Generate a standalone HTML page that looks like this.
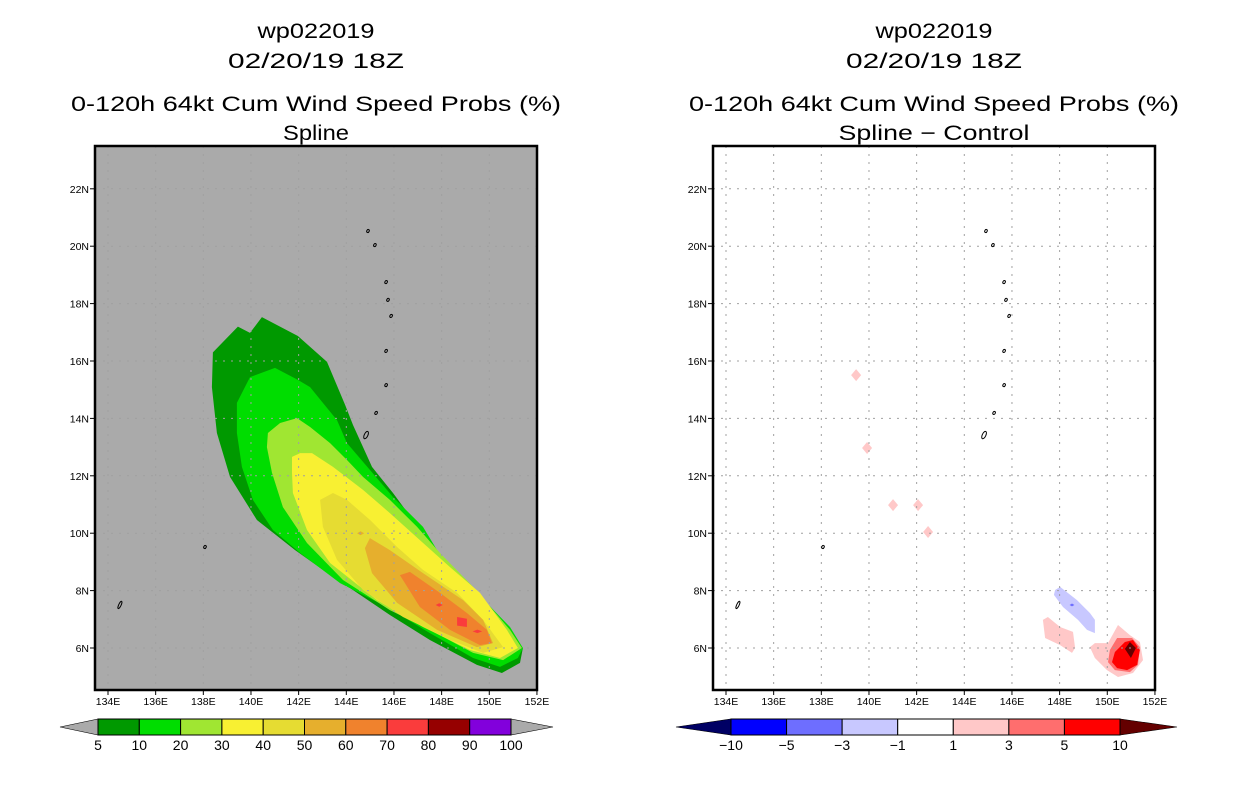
<!DOCTYPE html>
<html><head><meta charset="utf-8"><style>
html,body{margin:0;padding:0;background:#fff;}
svg{display:block;}
text{font-family:"Liberation Sans",sans-serif;}
</style></head><body>
<svg id="chart" width="1236" height="800" viewBox="0 0 1236 800" xmlns="http://www.w3.org/2000/svg"></svg>
<script>
// ---------- DATA ----------
const lonTicks = [134,136,138,140,142,144,146,148,150,152];
const latTicks = [6,8,10,12,14,16,18,20,22];
const probLevelColors = ["#009900","#00dd00","#a0e632","#f8f032","#e6dc32","#e6af2d","#f0822d","#fa3c3c","#960000","#8200dc"];
const probLevelLabels = ["5","10","20","30","40","50","60","70","80","90","100"];
const diffLevelColors = ["#0000ff","#6e6eff","#c8c8ff","#ffffff","#ffc8c8","#ff6e6e","#ff0000"];
const diffLevelLabels = ["-10","-5","-3","-1","1","3","5","10"];
// probability contours (lon, lat) per level
const prob5 = [[138.4,16.3],[139.45,17.2],[139.96,16.98],[140.46,17.53],[141.97,16.87],[143.19,15.97],[143.95,14.47],[144.28,13.77],[145.08,12.31],[145.96,11.4],[147.51,9.66],[149.19,7.92],[150.45,6.73],[151.41,6.0],[151.29,5.48],[150.53,5.13],[149.48,5.41],[147.51,6.28],[145.83,7.15],[142.9,8.79],[141.85,9.41],[140.25,10.46],[139.12,11.96],[138.57,13.49],[138.36,15.09]];
const prob10 = [[139.41,14.54],[139.96,15.44],[141.01,15.76],[141.97,15.34],[142.48,15.09],[143.02,14.54],[143.61,13.94],[144.03,13.14],[145.0,12.2],[145.96,11.26],[147.22,10.22],[148.06,9.07],[149.48,7.92],[150.87,6.73],[151.41,6.0],[151.2,5.65],[150.45,5.34],[149.32,5.65],[147.51,6.52],[145.71,7.43],[143.74,8.26],[142.06,9.31],[140.92,10.11],[140.08,11.16],[139.62,12.31],[139.41,13.49]];
const prob20 = [[140.71,13.49],[141.22,13.84],[141.93,14.01],[142.48,13.7],[143.32,13.14],[144.03,12.55],[144.7,11.96],[145.83,11.16],[146.97,10.22],[147.93,9.31],[149.32,8.13],[150.87,6.63],[151.37,6.0],[150.58,5.58],[149.32,5.83],[147.51,6.63],[145.83,7.32],[143.86,8.37],[142.35,9.66],[141.34,10.91],[140.88,12.1],[140.67,13.0]];
const prob30 = [[141.72,12.66],[142.06,12.79],[142.56,12.79],[143.44,12.31],[144.7,11.51],[145.83,10.7],[147.09,9.76],[148.35,8.82],[149.61,7.92],[150.74,6.63],[151.2,6.0],[150.45,5.65],[149.19,5.93],[147.22,6.73],[145.29,7.67],[143.32,8.96],[142.35,10.11],[141.76,11.4],[141.72,12.1]];
const prob40 = [[142.9,11.16],[143.44,11.4],[144.03,11.16],[145.0,10.46],[146.13,9.52],[147.22,8.72],[148.65,7.92],[149.74,6.98],[150.58,6.03],[149.74,5.83],[148.35,6.28],[146.38,7.08],[144.7,8.02],[143.61,9.07],[143.02,10.22]];
const prob50 = [[144.78,9.48],[144.99,9.83],[145.83,9.41],[147.22,8.61],[148.9,7.67],[149.74,6.98],[150.16,6.17],[149.48,6.03],[147.81,6.63],[146.13,7.57],[145.08,8.61]];
const prob60 = [[146.25,8.54],[146.67,8.65],[147.93,7.92],[149.06,7.22],[149.9,6.63],[150.11,6.17],[149.61,6.1],[148.35,6.63],[147.09,7.43]];
const prob70 = [[148.65,7.08],[149.06,7.02],[149.06,6.73],[148.65,6.78]];
const prob70b = [[147.75,7.5],[147.9,7.56],[148.05,7.5],[147.9,7.44]];
const prob70c = [[149.3,6.58],[149.5,6.64],[149.7,6.58],[149.5,6.52]];
const prob50dot = [[144.45,10.0],[144.6,10.07],[144.75,10.0],[144.6,9.93]];
// difference contours
const diffNeg3a = [[147.81,8.02],[148.02,8.13],[148.73,7.67],[149.27,7.22],[149.48,6.98],[149.48,6.52],[149.15,6.63],[148.77,6.98],[148.14,7.43],[147.76,7.85]];
const diffNeg5dot = [[148.42,7.5],[148.52,7.55],[148.62,7.5],[148.52,7.45]];
const diff1a = [[147.3,6.98],[147.51,7.08],[148.02,6.73],[148.56,6.56],[148.65,6.0],[148.52,5.83],[148.02,6.1],[147.39,6.35]];
const diff1b = [[149.27,6.03],[149.48,6.17],[150.03,6.17],[150.45,6.8],[150.95,6.45],[151.37,6.21],[151.5,5.58],[151.08,5.13],[150.45,4.99],[149.99,5.23],[149.48,5.65]];
const diff3 = [[150.11,5.93],[150.41,6.35],[151.04,6.35],[151.37,6.03],[151.29,5.41],[150.95,5.16],[150.32,5.23],[150.03,5.51]];
const diff5 = [[150.2,5.51],[150.32,5.86],[150.74,6.21],[151.08,6.28],[151.37,5.93],[151.25,5.41],[150.83,5.23],[150.41,5.3]];
const diff10 = [[150.74,5.97],[150.95,6.21],[151.2,6.0],[150.99,5.65]];
const diffSmallLon = [139.46,139.92,141.01,142.06,142.48];
const diffSmallLat = [15.51,12.97,10.98,10.98,10.04];
const islandLon = [144.91,145.2,145.67,145.75,145.88,145.67,145.67,145.25,144.83,138.07,134.5];
const islandLat = [20.53,20.04,18.75,18.13,17.57,16.35,15.16,14.19,13.42,9.52,7.5];

// ---------- DRAW ----------
const NS="http://www.w3.org/2000/svg";
const svg=document.getElementById('chart');
function mk(tag,attrs,parent){const e=document.createElementNS(NS,tag);for(const k in attrs)e.setAttribute(k,attrs[k]);(parent||svg).appendChild(e);return e;}
const FX0=95, FX1=537, FY0=146, FY1=690;
function xScale(off){return lon=>off+108+(lon-134)*23.83;}
const yScale=lat=>648-(lat-6)*28.7;
function pts(arr,xs){return arr.map(p=>xs(p[0]).toFixed(1)+','+yScale(p[1]).toFixed(1)).join(' ');}

function panel(off,name,bg,title4){
  const g=mk('g',{});
  
  
  const xs=xScale(off);
  const cx=off+(FX0+FX1)/2;
  const titles=[["wp022019",38,117],["02/20/19 18Z",68,176],["0-120h 64kt Cum Wind Speed Probs (%)",111,490],[title4[0],140,title4[1]]];
  titles.forEach((t,i)=>{const e=mk('text',{x:cx,y:t[1],'text-anchor':'middle','font-size':'21',textLength:t[2],lengthAdjust:'spacingAndGlyphs',fill:'#000'},g);e.textContent=t[0];
    
    });
  const bgR=mk('rect',{x:off+FX0,y:FY0,width:FX1-FX0,height:FY1-FY0,fill:bg},g);
  
  
  return {g,xs};
}
function poly(arr,color,p,nm){const e=mk('polygon',{points:pts(arr,p.xs),fill:color},p.g);
  
  }
function finish(p,off){
  const g=p.g, xs=p.xs;
  lonTicks.forEach(l=>{if(l>=152)return;const x=xs(l);mk('line',{x1:x,y1:FY0,x2:x,y2:FY1,stroke:'#a0a0a0','stroke-width':1,'stroke-dasharray':'2,6'},g);});
  latTicks.forEach(l=>{const y=yScale(l);mk('line',{x1:off+FX0,y1:y,x2:off+FX1,y2:y,stroke:'#a0a0a0','stroke-width':1,'stroke-dasharray':'2,6'},g);});
  islandLon.forEach((lo,i)=>{const e=mk('ellipse',{cx:xs(lo),cy:yScale(islandLat[i]),rx:i==8?1.8:1.2,ry:i==8||i==10?4:1.6,fill:'none',stroke:'#000','stroke-width':1,transform:'rotate(25 '+xs(lo)+' '+yScale(islandLat[i])+')'},g);
    
    });
  const fr=mk('rect',{x:off+FX0,y:FY0,width:FX1-FX0,height:FY1-FY0,fill:'none',stroke:'#000','stroke-width':2.5},g);
  
  
  lonTicks.forEach(l=>{const x=xs(l);mk('line',{x1:x,y1:FY1,x2:x,y2:FY1+5,stroke:'#000'},g);
    const t=mk('text',{x:x,y:FY1+15,'text-anchor':'middle','font-size':'10.5',fill:'#000'},g);t.textContent=l+'E';
    
    });
  latTicks.forEach(l=>{const y=yScale(l);mk('line',{x1:off+FX0-5,y1:y,x2:off+FX0,y2:y,stroke:'#000'},g);
    const t=mk('text',{x:off+FX0-6,y:y+4,'text-anchor':'end','font-size':'10.5',fill:'#000'},g);t.textContent=l+'N';
    
    });
}
function colorbar(x0,x1,tipL,tipR,colors,labels,cl,cr,name){
  const g=mk('g',{});
  
  
  const y0=719,y1=735,w=(x1-x0)/colors.length;
  mk('polygon',{points:`${tipL},727 ${x0},${y0} ${x0},${y1}`,fill:cl,stroke:'#000','stroke-width':0.6},g);
  mk('polygon',{points:`${tipR},727 ${x1},${y0} ${x1},${y1}`,fill:cr,stroke:'#000','stroke-width':0.6},g);
  colors.forEach((c,i)=>{const r=mk('rect',{x:x0+i*w,y:y0,width:w,height:y1-y0,fill:c,stroke:'#000','stroke-width':1},g);
    
    });
  labels.forEach((l,i)=>{const t=mk('text',{x:x0+(i+(labels.length>colors.length?0:1))*w,y:750,'text-anchor':'middle','font-size':'14',fill:'#000'},g);t.textContent=l.replace('-','\u2212');
    
    });
}

const L=panel(0,'spline-probability-map','#aaaaaa',['Spline',66]);
[prob5,prob10,prob20,prob30,prob40,prob50,prob60].forEach((a,i)=>poly(a,probLevelColors[i],L,'contour-'+probLevelLabels[i]));
poly(prob50dot,probLevelColors[5],L,'contour-50-spot');
[prob70,prob70b,prob70c].forEach(a=>poly(a,probLevelColors[7],L,'contour-70'));
finish(L,0);
colorbar(98,511,60,553,probLevelColors,probLevelLabels,'#aaaaaa','#aaaaaa','probability-colorbar');

const R=panel(618,'spline-minus-control-map','#ffffff',['Spline \u2212 Control',191]);
poly(diffNeg3a,diffLevelColors[2],R,'diff-negative-area');
poly(diffNeg5dot,diffLevelColors[1],R,'diff-negative-spot');
poly(diff1a,diffLevelColors[4],R,'diff-positive-1');
poly(diff1b,diffLevelColors[4],R,'diff-positive-1');
poly(diff3,diffLevelColors[5],R,'diff-positive-3');
poly(diff5,diffLevelColors[6],R,'diff-positive-5');
poly(diff10,'#640000',R,'diff-positive-10');
diffSmallLon.forEach((lo,i)=>{const x=R.xs(lo),y=yScale(diffSmallLat[i]);
  const e=mk('polygon',{points:`${x-5},${y} ${x},${y-6} ${x+5},${y} ${x},${y+6}`,fill:'#ffc8c8'},R.g);
  
  });
finish(R,618);
colorbar(731,1120,676,1177,diffLevelColors,diffLevelLabels,'#000064','#640000','difference-colorbar');
</script>
</body></html>
